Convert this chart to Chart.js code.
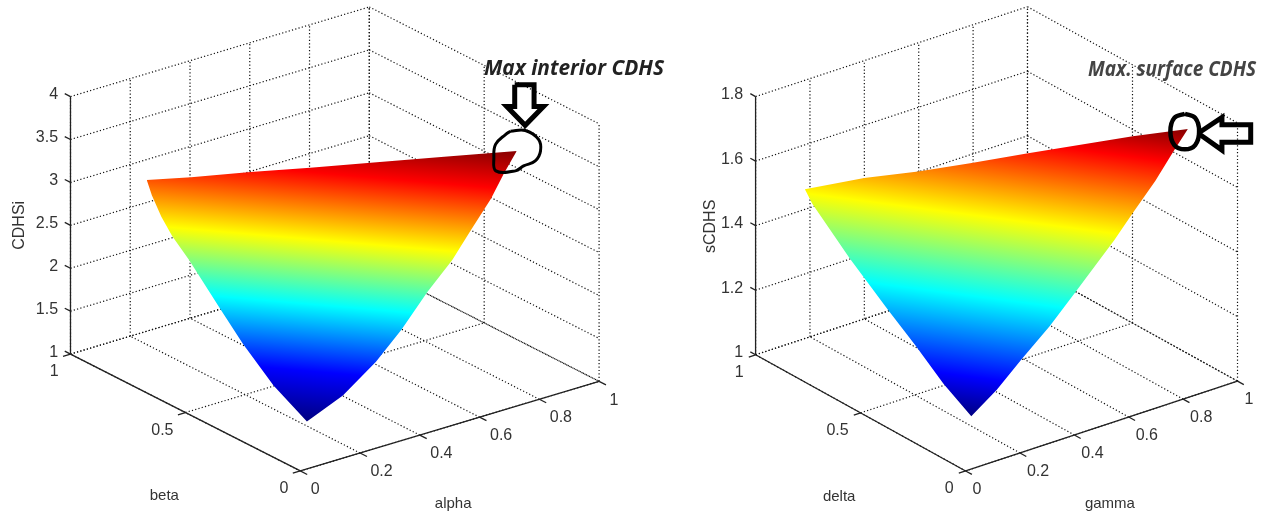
<!DOCTYPE html>
<html>
<head>
<meta charset="utf-8">
<title>CDHS surfaces</title>
<script src="https://cdn.jsdelivr.net/npm/chart.js@4"></script>
<style>
  html, body { margin: 0; padding: 0; background: #fff; }
  canvas { position: absolute; top: 0; }
</style>
</head>
<body>
<canvas id="interior" width="680" height="520" style="left:0"></canvas>
<canvas id="surface" width="597" height="520" style="left:680px"></canvas>
<script>
// axis ticks
const horizTicks = [0, 0.2, 0.4, 0.6, 0.8, 1];
const depthTicks = [0, 0.5, 1];
const interiorZTicks = [1, 1.5, 2, 2.5, 3, 3.5, 4];
const surfaceZTicks = [1, 1.2, 1.4, 1.6, 1.8];

// left surface (alpha, beta, CDHSi)
const interiorTopAlpha = [0.266, 0.353, 0.472, 0.590, 0.710, 0.857, 1.002];
const interiorTopBeta = [1.014, 0.934, 0.830, 0.724, 0.617, 0.488, 0.361];
const interiorTopZ = [2.73, 2.78, 2.86, 2.93, 3.01, 3.10, 3.19];
const interiorLowAlpha = [0.266, 0.253, 0.241, 0.233, 0.230, 0.219, 0.210, 0.208, 0.219, 0.257, 0.324, 0.434, 0.529, 0.630, 0.724, 0.802, 0.885, 0.944, 1.002];
const interiorLowBeta = [1.014, 0.975, 0.918, 0.860, 0.783, 0.630, 0.523, 0.387, 0.256, 0.248, 0.236, 0.235, 0.247, 0.267, 0.280, 0.300, 0.321, 0.342, 0.361];
const interiorLowZ = [2.73, 2.62, 2.46, 2.32, 2.15, 1.79, 1.55, 1.25, 1.00, 1.08, 1.22, 1.50, 1.76, 2.06, 2.32, 2.56, 2.81, 3.01, 3.19];

// right surface (gamma, delta, sCDHS)
const surfaceTopAlpha = [0.193, 0.320, 0.431, 0.541, 0.661, 0.885, 0.999];
const surfaceTopBeta = [1.015, 0.897, 0.784, 0.679, 0.565, 0.350, 0.235];
const surfaceTopZ = [1.454, 1.496, 1.526, 1.558, 1.596, 1.665, 1.697];
const surfaceLowAlpha = [0.193, 0.190, 0.196, 0.208, 0.218, 0.226, 0.241, 0.321, 0.406, 0.499, 0.591, 0.673, 0.725, 0.792, 0.875, 0.946, 0.999];
const surfaceLowBeta = [1.015, 0.976, 0.806, 0.641, 0.520, 0.398, 0.285, 0.267, 0.258, 0.245, 0.239, 0.234, 0.231, 0.231, 0.229, 0.234, 0.235];
const surfaceLowZ = [1.454, 1.424, 1.314, 1.212, 1.140, 1.064, 1.000, 1.066, 1.141, 1.222, 1.306, 1.382, 1.430, 1.494, 1.573, 1.644, 1.697];

// jet colormap stops, and where they land on each panel
const jetColors = ['#00007d', '#0000ff', '#00ffff', '#ffff00', '#ff0000', '#800000'];
const interiorBands = [424, 372, 305, 240, 173, 132];
const surfaceBands = [417, 376, 295, 214, 135, 98];

// hand drawn notes on top of the plots
const interiorArrow = [[516, 83], [535.5, 83], [535.5, 105], [545, 105], [526.5, 124], [508, 105], [516, 105], [516, 83]];
const interiorRing = [[511.7, 130], [526.7, 129.3], [540, 138.3], [542, 150], [536.7, 160], [525, 165], [516.7, 170], [497, 170], [495, 156.7], [496.7, 143.3], [506.7, 133.3], [511.7, 130]];
const surfaceArrow = [[1200, 132], [1224, 116], [1224, 123.5], [1253, 123.5], [1253, 141], [1224, 141], [1224, 149], [1200, 132]];
const surfaceRing = [[1186.6, 112.3], [1197, 116.5], [1201, 130], [1197, 144], [1186.6, 148.3], [1176, 144], [1172, 130], [1176, 116.5], [1186.6, 112.3]];

function zip3(a, b, z) {
  return a.map((v, i) => [v, b[i], z[i]]);
}

function buildPanel(id, p) {
  const project = (a, b, z) => ({
    x: p.ox + a * p.ax + b * p.bx,
    y: p.oy + a * p.ay + b * p.by - (z - p.zTicks[0]) * p.zUnit
  });
  const zMin = p.zTicks[0];
  const zMax = p.zTicks[p.zTicks.length - 1];
  const datasets = [];

  function seg(from, to, style) {
    datasets.push(Object.assign({
      data: [project(from[0], from[1], from[2]), project(to[0], to[1], to[2])],
      showLine: true, pointRadius: 0, borderColor: '#111', borderWidth: 1.2
    }, style));
  }
  const dotted = { borderDash: [1.2, 2.2], order: 5 };
  const solid = { borderWidth: 1.3, borderColor: '#222', order: 3 };

  // back walls and floor
  p.zTicks.forEach(z => {
    seg([0, 1, z], [1, 1, z], dotted);
    seg([1, 1, z], [1, 0, z], dotted);
  });
  horizTicks.forEach(a => {
    seg([a, 1, zMin], [a, 1, zMax], dotted);
    seg([a, 0, zMin], [a, 1, zMin], dotted);
  });
  depthTicks.forEach(b => {
    seg([1, b, zMin], [1, b, zMax], dotted);
    seg([0, b, zMin], [1, b, zMin], dotted);
  });

  // solid axes and tick marks
  seg([0, 1, zMin], [0, 1, zMax], solid);
  seg([0, 0, zMin], [0, 1, zMin], solid);
  seg([0, 0, zMin], [1, 0, zMin], solid);
  p.zTicks.forEach(z => seg([0, 1, z], [0, 1.025, z], solid));
  horizTicks.forEach(a => seg([a, 0, zMin], [a, -0.03, zMin], solid));
  depthTicks.forEach(b => seg([0, b, zMin], [-0.025, b, zMin], solid));

  // the surface is the band between its top edge and its lower edge
  const topSet = {
    data: p.top.map(r => project(r[0], r[1], r[2])),
    showLine: true, pointRadius: 0, borderWidth: 0, borderColor: 'transparent',
    fill: '+1', backgroundColor: '#888', order: 2
  };
  datasets.push(topSet);
  datasets.push({
    data: p.low.map(r => project(r[0], r[1], r[2])),
    showLine: true, pointRadius: 0, borderWidth: 0, borderColor: 'transparent',
    fill: false, order: 2
  });

  // arrow and ring
  datasets.push({
    data: p.arrow.map(q => ({ x: q[0], y: q[1] })),
    showLine: true, pointRadius: 0, borderColor: '#000', borderWidth: 5, borderJoinStyle: 'miter', order: 1
  });
  datasets.push({
    data: p.ring.map(q => ({ x: q[0], y: q[1] })),
    showLine: true, pointRadius: 0, borderColor: '#000', borderWidth: p.ringWidth, tension: 0.4, order: 1
  });

  const labels = {
    id: 'labels',
    afterDraw(chart) {
      const ctx = chart.ctx;
      const sx = v => chart.scales.x.getPixelForValue(v);
      const sy = v => chart.scales.y.getPixelForValue(v);
      const put = (text, x, y, align) => {
        ctx.textAlign = align;
        ctx.fillText(text, sx(x), sy(y));
      };
      ctx.save();
      ctx.fillStyle = '#333';
      ctx.textBaseline = 'middle';
      ctx.font = '16px "Liberation Sans"';
      p.zTicks.forEach(z => {
        const q = project(0, 1, z);
        put(String(z), q.x - p.zGap, q.y - 2, 'right');
      });
      depthTicks.forEach(b => {
        const q = project(0, b, zMin);
        put(String(b), q.x - 12, q.y + 18, 'right');
      });
      horizTicks.forEach(a => {
        const q = project(a, 0, zMin);
        put(String(a), q.x + p.aGap, q.y + 19, 'left');
      });
      ctx.font = '15px "Liberation Sans"';
      put(p.xTitle[0], p.xTitle[1], p.xTitle[2], 'center');
      put(p.yTitle[0], p.yTitle[1], p.yTitle[2], 'center');
      ctx.save();
      ctx.font = '16px "Liberation Sans"';
      ctx.translate(sx(p.zTitle[1]), sy(p.zTitle[2]));
      ctx.rotate(-Math.PI / 2);
      ctx.textAlign = 'center';
      ctx.fillText(p.zTitle[0], 0, 0);
      ctx.restore();
      // note above the marked maximum
      ctx.fillStyle = p.noteColor;
      ctx.font = 'italic bold 21px "Open Sans"';
      ctx.textAlign = 'left';
      ctx.fillText(p.note[0], sx(p.note[1]), sy(p.note[2]), p.note[3]);
      ctx.restore();
    }
  };

  const chart = new Chart(document.getElementById(id), {
    type: 'scatter',
    data: { datasets },
    options: {
      responsive: false,
      animation: false,
      layout: { padding: 0 },
      plugins: { legend: { display: false }, tooltip: { enabled: false } },
      scales: {
        x: { type: 'linear', min: p.left, max: p.right, display: false },
        y: { type: 'linear', min: 0, max: 520, reverse: true, display: false }
      }
    },
    plugins: [labels]
  });

  // jet gradient needs the scales, so it goes on after the first layout
  const pick = v => chart.scales.y.getPixelForValue(v);
  const y0 = pick(p.bands[0]);
  const y1 = pick(p.bands[p.bands.length - 1]);
  const x0 = chart.scales.x.getPixelForValue(p.pivot);
  const len = (y1 - y0) / (1 + p.tilt * p.tilt);
  const g = chart.ctx.createLinearGradient(x0, y0, x0 - p.tilt * len, y0 + len);
  p.bands.forEach((v, i) => g.addColorStop((pick(v) - y0) / (y1 - y0), jetColors[i]));
  topSet.backgroundColor = g;
  chart.update();
  return chart;
}

buildPanel('interior', {
  left: 0, right: 680,
  ox: 300, oy: 473, ax: 301, ay: -90.5, bx: -231.5, by: -118, zUnit: 86.67,
  zTicks: interiorZTicks, zGap: 12.5, aGap: 10.5,
  top: zip3(interiorTopAlpha, interiorTopBeta, interiorTopZ),
  low: zip3(interiorLowAlpha, interiorLowBeta, interiorLowZ),
  bands: interiorBands, pivot: 320, tilt: 0.085,
  arrow: interiorArrow, ring: interiorRing, ringWidth: 3,
  xTitle: ['beta', 163, 498], yTitle: ['alpha', 454, 506], zTitle: ['CDHSi', 17, 225],
  note: ['Max interior CDHS', 485, 67, 180], noteColor: '#222'
});

buildPanel('surface', {
  left: 680, right: 1277,
  ox: 965.5, oy: 473, ax: 274.2, ay: -90.7, bx: -211.8, by: -117.3, zUnit: 325.9,
  zTicks: surfaceZTicks, zGap: 12.5, aGap: 7,
  top: zip3(surfaceTopAlpha, surfaceTopBeta, surfaceTopZ),
  low: zip3(surfaceLowAlpha, surfaceLowBeta, surfaceLowZ),
  bands: surfaceBands, pivot: 965, tilt: 0.13,
  arrow: surfaceArrow, ring: surfaceRing, ringWidth: 4.5,
  xTitle: ['delta', 838, 499], yTitle: ['gamma', 1111, 506], zTitle: ['sCDHS', 708, 226],
  note: ['Max. surface CDHS', 1089, 68, 168], noteColor: '#444'
});
</script>
</body>
</html>
